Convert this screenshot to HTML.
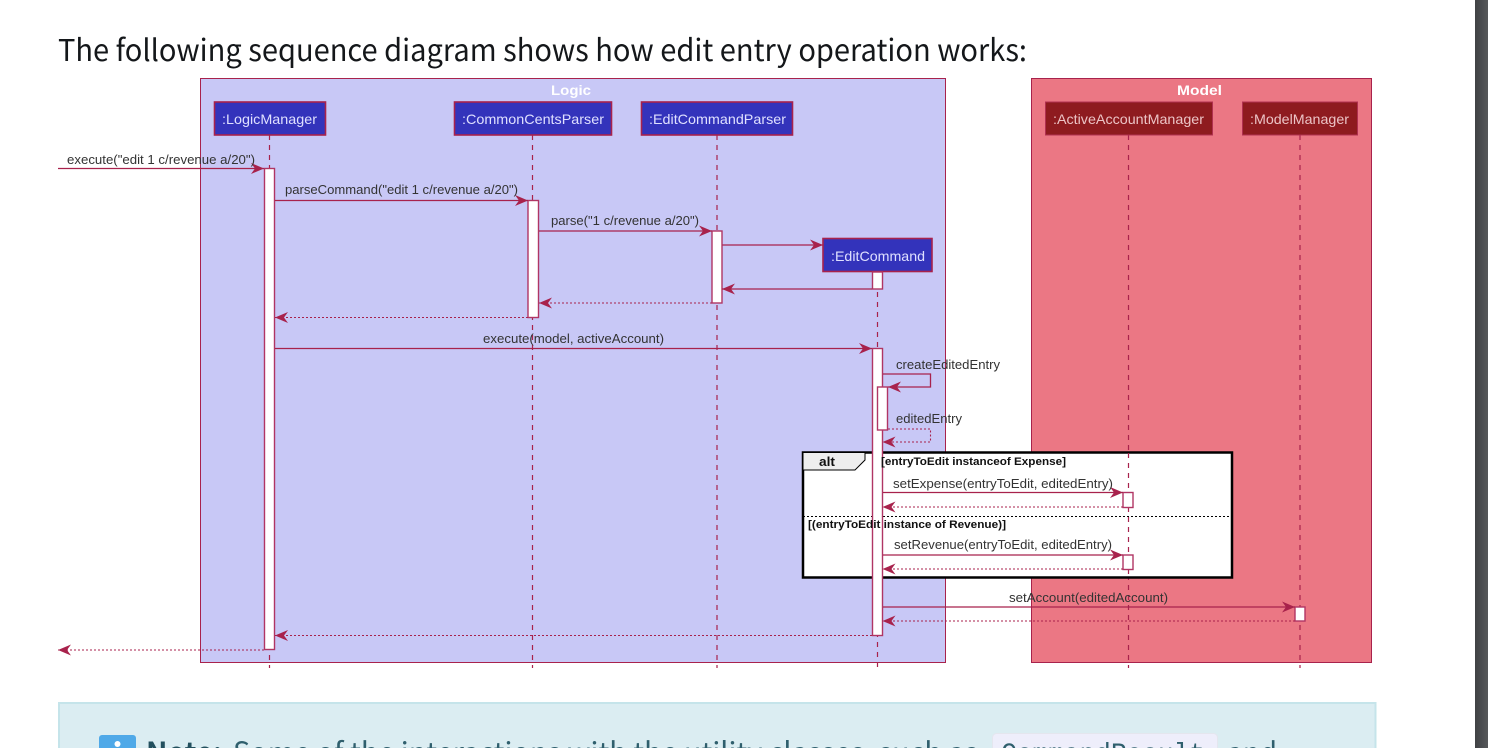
<!DOCTYPE html>
<html lang="en">
<head>
<meta charset="utf-8">
<title>Edit entry sequence diagram</title>
<style>
html,body{margin:0;padding:0;background:#fff;width:1488px;height:748px;overflow:hidden}
svg{display:block}
text{font-family:"Liberation Sans",sans-serif}
.h{font-family:"Noto Sans CJK SC","Liberation Sans",sans-serif}
.dg{filter:blur(0.35px)}
.m{font-size:12.5px;fill:#333}
.p{font-size:14px;fill:#dfe0ff}
.pm{font-size:14px;fill:#ecc4c6}
.b{font-size:11px;font-weight:bold;fill:#111}
.l{stroke:#A8224C;stroke-width:1.3;fill:none}
.d{stroke:#A8224C;stroke-width:1.1;fill:none;stroke-dasharray:2,2}
.ll{stroke:#A8224C;stroke-width:1.2;stroke-dasharray:5,5;fill:none}
.a{fill:#fff;stroke:#B03564;stroke-width:1.4}
.pb{fill:#3333BB;stroke:#A8224C;stroke-width:1.6}
.pr{fill:#8E1B1F;stroke:#B03050;stroke-width:1}
</style>
</head>
<body>
<svg width="1488" height="748" viewBox="0 0 1488 748" xmlns="http://www.w3.org/2000/svg">
<defs>
<marker id="h" markerUnits="userSpaceOnUse" markerWidth="16" markerHeight="14" refX="13" refY="6" orient="auto">
<path d="M0,0.500 L13,6 L0,11.500 L4,6 Z" fill="#A8224C"/>
</marker>
<linearGradient id="sb" x1="0" x2="1" y1="0" y2="0"><stop offset="0" stop-color="#3f4144"/><stop offset="1" stop-color="#56585b"/></linearGradient>
</defs>

<rect x="1475" y="0" width="13" height="748" fill="url(#sb)"/>

<text class="h" x="58" y="61" font-size="30" fill="#14171a" textLength="969" lengthAdjust="spacingAndGlyphs">The following sequence diagram shows how edit entry operation works:</text>

<g class="dg">
<!-- boxes -->
<rect x="200.500" y="78.500" width="745" height="584" fill="#C8C8F6" stroke="#A8224C"/>
<rect x="1031.500" y="78.500" width="340" height="584" fill="#EB7784" stroke="#A8224C"/>
<text x="551" y="95" font-size="14" font-weight="bold" fill="#fff" textLength="40" lengthAdjust="spacingAndGlyphs">Logic</text>
<text x="1177" y="95" font-size="14" font-weight="bold" fill="#fff" textLength="45" lengthAdjust="spacingAndGlyphs">Model</text>

<!-- lifelines -->
<path class="ll" d="M269.500,135V668M532.500,135V668M717,135V668M877.500,272V668M1128.500,135V668M1300,135V668"/>

<!-- participants -->
<rect class="pb" x="214.500" y="102" width="111" height="33"/>
<rect class="pb" x="454.500" y="102" width="157" height="33"/>
<rect class="pb" x="641.500" y="102" width="151" height="33"/>
<rect class="pb" x="823" y="238.500" width="109" height="33"/>
<rect class="pr" x="1045.500" y="102" width="167" height="33"/>
<rect class="pr" x="1242.500" y="102" width="115" height="33"/>
<text class="p" x="222" y="124" textLength="95" lengthAdjust="spacingAndGlyphs">:LogicManager</text>
<text class="p" x="462" y="124" textLength="142" lengthAdjust="spacingAndGlyphs">:CommonCentsParser</text>
<text class="p" x="649" y="124" textLength="137" lengthAdjust="spacingAndGlyphs">:EditCommandParser</text>
<text class="p" x="831" y="261" textLength="94" lengthAdjust="spacingAndGlyphs">:EditCommand</text>
<text class="pm" x="1053" y="124" textLength="151" lengthAdjust="spacingAndGlyphs">:ActiveAccountManager</text>
<text class="pm" x="1250" y="124" textLength="99" lengthAdjust="spacingAndGlyphs">:ModelManager</text>

<!-- alt frame -->
<rect x="803" y="452.500" width="429" height="125" fill="#fff" stroke="#000" stroke-width="2.500"/>
<path d="M803,452.500H865V460L855,470H803Z" fill="#eeeeee" stroke="#000" stroke-width="1"/>
<line x1="803" y1="516.500" x2="1232" y2="516.500" stroke="#000" stroke-width="1" stroke-dasharray="2,2"/>
<path class="ll" d="M1128.500,453V492M1128.500,507V555M1128.500,569V577"/>

<!-- activations -->
<rect class="a" x="264.500" y="168.500" width="10" height="481"/>
<rect class="a" x="528" y="200.500" width="10.500" height="117"/>
<rect class="a" x="712" y="231" width="10" height="72"/>
<rect class="a" x="872.500" y="272" width="10" height="17"/>
<rect class="a" x="872.500" y="348.500" width="10" height="287"/>
<rect class="a" x="877.500" y="387" width="10" height="43"/>
<rect class="a" x="1123" y="492.500" width="10" height="15"/>
<rect class="a" x="1123" y="555" width="10" height="14.500"/>
<rect class="a" x="1295" y="607" width="10" height="14"/>

<!-- messages -->
<path class="l" d="M58,168.500H264" marker-end="url(#h)"/>
<path class="l" d="M275,200.500H528" marker-end="url(#h)"/>
<path class="l" d="M539,231H712" marker-end="url(#h)"/>
<path class="l" d="M722.500,245H823" marker-end="url(#h)"/>
<path class="l" d="M872,289H722" marker-end="url(#h)"/>
<path class="d" d="M712,303H539" marker-end="url(#h)"/>
<path class="d" d="M528,317.500H275" marker-end="url(#h)"/>
<path class="l" d="M275,348.500H872" marker-end="url(#h)"/>
<path class="l" d="M883,374H930.500V387H888" marker-end="url(#h)"/>
<path class="d" d="M888,429H930.500V442H882.500" marker-end="url(#h)"/>
<path class="l" d="M883,492.500H1123" marker-end="url(#h)"/>
<path class="d" d="M1123,507H882.500" marker-end="url(#h)"/>
<path class="l" d="M883,555H1123" marker-end="url(#h)"/>
<path class="d" d="M1123,569H882.500" marker-end="url(#h)"/>
<path class="l" d="M883,607H1295" marker-end="url(#h)"/>
<path class="d" d="M1295,621H882.500" marker-end="url(#h)"/>
<path class="d" d="M872,635.500H275" marker-end="url(#h)"/>
<path class="d" d="M264,650H58" marker-end="url(#h)"/>

<!-- labels -->
<text class="m" x="67" y="164" textLength="188" lengthAdjust="spacingAndGlyphs">execute("edit 1 c/revenue a/20")</text>
<text class="m" x="285" y="194" textLength="233" lengthAdjust="spacingAndGlyphs">parseCommand("edit 1 c/revenue a/20")</text>
<text class="m" x="551" y="225" textLength="148" lengthAdjust="spacingAndGlyphs">parse("1 c/revenue a/20")</text>
<text class="m" x="483" y="343" textLength="181" lengthAdjust="spacingAndGlyphs">execute(model, activeAccount)</text>
<text class="m" x="896" y="369" textLength="104" lengthAdjust="spacingAndGlyphs">createEditedEntry</text>
<text class="m" x="896" y="423" textLength="66" lengthAdjust="spacingAndGlyphs">editedEntry</text>
<text x="819" y="466" font-size="12.500" font-weight="bold" fill="#111" textLength="16" lengthAdjust="spacingAndGlyphs">alt</text>
<text class="b" x="881" y="465" textLength="185" lengthAdjust="spacingAndGlyphs">[entryToEdit instanceof Expense]</text>
<text class="m" x="893" y="488" textLength="220" lengthAdjust="spacingAndGlyphs">setExpense(entryToEdit, editedEntry)</text>
<text class="b" x="808" y="528" textLength="198" lengthAdjust="spacingAndGlyphs">[(entryToEdit instance of Revenue)]</text>
<text class="m" x="894" y="549" textLength="218" lengthAdjust="spacingAndGlyphs">setRevenue(entryToEdit, editedEntry)</text>
<text class="m" x="1009" y="602" textLength="159" lengthAdjust="spacingAndGlyphs">setAccount(editedAccount)</text>
</g>

<!-- note block -->
<rect x="59" y="703" width="1316.500" height="60" fill="#DBEDF2" stroke="#C5E4EA" stroke-width="2"/>
<rect x="99" y="735" width="37" height="30" rx="3" fill="#4FA9E8"/>
<circle cx="117.500" cy="744" r="3" fill="#fff"/>
<text class="h" x="146" y="763" font-size="29" font-weight="bold" fill="#23505e" textLength="76" lengthAdjust="spacingAndGlyphs">Note:</text>
<text class="h" x="233" y="763" font-size="29" fill="#2f5f6d" textLength="745" lengthAdjust="spacingAndGlyphs">Some of the interactions with the utility classes, such as</text>
<rect x="992.500" y="733.500" width="225" height="30" rx="4" fill="#EEEEFB" stroke="#E4E6EE"/>
<text x="1001" y="762" font-size="28" fill="#2f5f6d" textLength="204" lengthAdjust="spacingAndGlyphs" style="font-family:'Liberation Mono',monospace">CommandResult</text>
<text class="h" x="1227" y="763" font-size="29" fill="#2f5f6d" textLength="50" lengthAdjust="spacingAndGlyphs">and</text>
</svg>
</body>
</html>
